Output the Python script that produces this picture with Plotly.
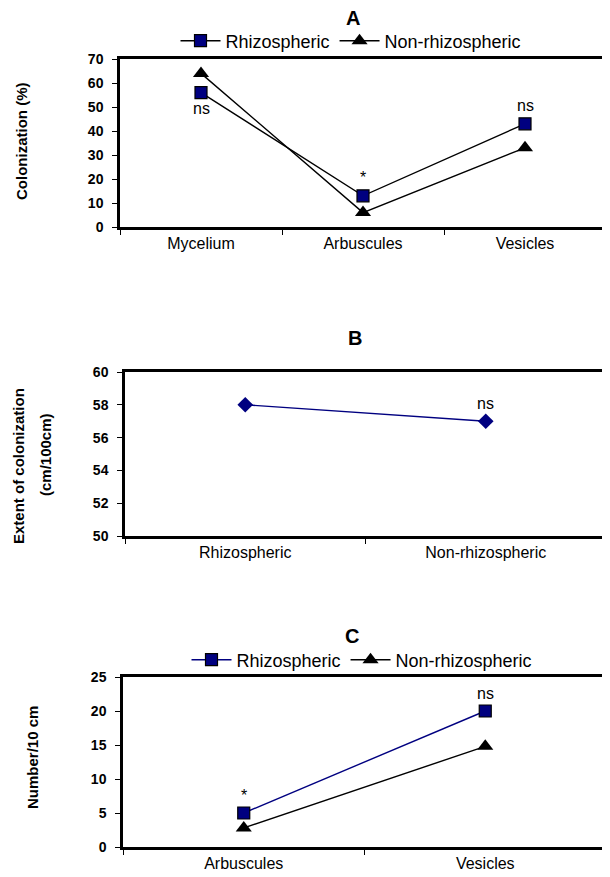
import plotly.graph_objects as go

W, H = 610, 877
OFF = 8  # page body margin offset

# Panel A data
catsA = ["Mycelium", "Arbuscules", "Vesicles"]
rhizoA = [56, 13, 43]
nonrhizoA = [64, 6, 33]
sigA = ["ns", "*", "ns"]
sigA_pos = ["below", "above", "above"]

# Panel B data
catsB = ["Rhizospheric", "Non-rhizospheric"]
valsB = [58, 57]
sigB = ["", "ns"]

# Panel C data
catsC = ["Arbuscules", "Vesicles"]
rhizoC = [5, 20]
nonrhizoC = [2.8, 14.8]
sigC = ["*", "ns"]

NAVY = "#000080"
FONT = "Liberation Sans, Arial, sans-serif"

def px_x(p):
    return (p - OFF) / W

def px_y(p):
    return 1 - (p - OFF) / H

fig = go.Figure()

sq = dict(symbol="square", size=12, color=NAVY, line=dict(color="black", width=1.2))
tri = dict(symbol="triangle-up", size=14, color="black")

# Panel A
fig.add_trace(go.Scatter(x=catsA, y=rhizoA, mode="lines+markers", name="Rhizospheric",
                         line=dict(color="black", width=1.4), marker=sq,
                         xaxis="x", yaxis="y", legend="legend"))
fig.add_trace(go.Scatter(x=catsA, y=nonrhizoA, mode="lines+markers", name="Non-rhizospheric",
                         line=dict(color="black", width=1.4), marker=tri,
                         xaxis="x", yaxis="y", legend="legend"))
# Panel B
fig.add_trace(go.Scatter(x=catsB, y=valsB, mode="lines+markers", name="B",
                         line=dict(color=NAVY, width=1.4),
                         marker=dict(symbol="diamond", size=12, color=NAVY),
                         xaxis="x2", yaxis="y2", showlegend=False))
# Panel C
fig.add_trace(go.Scatter(x=catsC, y=rhizoC, mode="lines+markers", name="Rhizospheric",
                         line=dict(color=NAVY, width=1.4), marker=sq,
                         xaxis="x3", yaxis="y3", legend="legend2"))
fig.add_trace(go.Scatter(x=catsC, y=nonrhizoC, mode="lines+markers", name="Non-rhizospheric",
                         line=dict(color="black", width=1.4), marker=tri,
                         xaxis="x3", yaxis="y3", legend="legend2"))

annotations = []
for c, v, s, pos in zip(catsA, rhizoA, sigA, sigA_pos):
    annotations.append(dict(x=c, y=v, xref="x", yref="y", text=s, showarrow=False,
                            yshift=-16 if pos == "below" else 18,
                            font=dict(family=FONT, size=16, color="black")))
for c, v, s in zip(catsB, valsB, sigB):
    if s:
        annotations.append(dict(x=c, y=v, xref="x2", yref="y2", text=s, showarrow=False,
                                yshift=18, font=dict(family=FONT, size=16, color="black")))
for c, v, s in zip(catsC, rhizoC, sigC):
    annotations.append(dict(x=c, y=v, xref="x3", yref="y3", text=s, showarrow=False,
                            yshift=18, font=dict(family=FONT, size=16, color="black")))

# panel titles
for t, xp, yp in [("A", 353, 18), ("B", 355, 338), ("C", 352, 636)]:
    annotations.append(dict(x=px_x(xp), y=px_y(yp), xref="paper", yref="paper", text="<b>%s</b>" % t,
                            showarrow=False, xanchor="center", yanchor="middle",
                            font=dict(family=FONT, size=20, color="black")))

# y axis titles
for t, xp, yp in [("<b>Colonization (%)</b>", 22, 142),
                  ("<b>Extent of colonization</b>", 18, 466),
                  ("<b>(cm/100cm)</b>", 46, 455),
                  ("<b>Number/10 cm</b>", 32, 758)]:
    annotations.append(dict(x=px_x(xp), y=px_y(yp), xref="paper", yref="paper", text=t,
                            showarrow=False, textangle=-90, xanchor="center", yanchor="middle",
                            font=dict(family=FONT, size=15, color="black")))

xax = dict(showline=True, linewidth=2.5, linecolor="black", mirror=True, ticks="outside",
           tickson="boundaries", ticklen=5, tickcolor="black", showgrid=False, zeroline=False,
           tickfont=dict(family=FONT, size=16, color="black"), fixedrange=True)
yax = dict(showline=True, linewidth=2.5, linecolor="black", mirror=True, ticks="outside",
           ticklen=5, tickcolor="black", showgrid=False, zeroline=False,
           tickfont=dict(family=FONT, size=14, color="black"), tickprefix="<b>", ticksuffix="</b>",
           ticklabelstandoff=6)

fig.update_layout(
    width=W, height=H,
    margin=dict(l=0, r=0, t=0, b=0, autoexpand=False),
    paper_bgcolor="white", plot_bgcolor="white",
    font=dict(family=FONT, color="black"),
    xaxis=dict(xax, domain=[px_x(120), px_x(606)], range=[-0.5, 2.5], anchor="y"),
    yaxis=dict(yax, domain=[px_y(227), px_y(59)], range=[0, 70], dtick=10, anchor="x"),
    xaxis2=dict(xax, domain=[px_x(125), px_x(606)], range=[-0.5, 1.5], anchor="y2"),
    yaxis2=dict(yax, domain=[px_y(536), px_y(372)], range=[50, 60], dtick=2, anchor="x2"),
    xaxis3=dict(xax, domain=[px_x(123), px_x(606)], range=[-0.5, 1.5], anchor="y3"),
    yaxis3=dict(yax, domain=[px_y(847), px_y(677)], range=[0, 25], dtick=5, anchor="x3"),
    legend=dict(orientation="h", x=px_x(351), y=px_y(41), xanchor="center", yanchor="middle",
                font=dict(family=FONT, size=18, color="black"), bgcolor="rgba(0,0,0,0)",
                itemwidth=40),
    legend2=dict(orientation="h", x=px_x(362), y=px_y(660), xanchor="center", yanchor="middle",
                 font=dict(family=FONT, size=18, color="black"), bgcolor="rgba(0,0,0,0)",
                 itemwidth=40),
    annotations=annotations,
    showlegend=True,
)

fig.write_html("out.html")
